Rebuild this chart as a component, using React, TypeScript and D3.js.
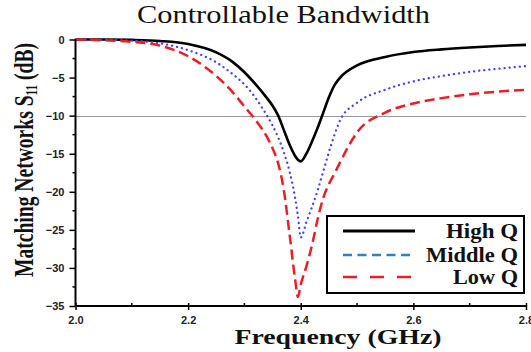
import * as d3 from "d3";

const freqs = [
  2.0, 2.05, 2.1, 2.15, 2.2, 2.25, 2.28, 2.3, 2.32, 2.34, 2.35, 2.36, 2.37, 2.38, 2.39, 2.395, 2.4,
  2.41, 2.42, 2.43, 2.44, 2.45, 2.46, 2.47, 2.5, 2.55, 2.6, 2.65, 2.7, 2.75, 2.8,
];

const highQ = [
  0, 0, -0.05, -0.2, -0.6, -1.7, -3.0, -4.3, -5.9, -7.7, -8.7, -10.0, -11.9, -13.8, -15.3, -15.8, -16.0,
  -15.0, -13.4, -11.6, -9.6, -7.6, -6.0, -5.0, -3.4, -2.3, -1.65, -1.3, -1.05, -0.85, -0.7,
];

const middleQ = [
  0, -0.05, -0.15, -0.5, -1.4, -3.0, -4.6, -5.9, -7.7, -10.0, -11.3, -12.9, -14.8, -17.3, -20.8, -23.2, -26.0,
  -24.0, -22.0, -19.8, -17.3, -14.8, -12.5, -10.6, -8.3, -6.6, -5.5, -4.8, -4.25, -3.85, -3.5,
];

const lowQ = [
  0, -0.1, -0.3, -0.8, -2.2, -4.8, -7.0, -8.8, -10.6, -12.8, -14.3, -16.3, -19.8, -25.5, -31.5, -33.8, -32.2,
  -29.8, -27.0, -23.6, -20.8, -19.0, -17.6, -16.1, -12.2, -9.6, -8.4, -7.7, -7.2, -6.85, -6.6,
];

const seriesNames = ["High Q", "Middle Q", "Low Q"];
const xTicks = [2.0, 2.2, 2.4, 2.6, 2.8];
const yTicks = [0, -5, -10, -15, -20, -25, -30, -35];
const refLevel = -10;

const W = 531;
const H = 352;
const left = 75.5;
const right = 526;
const top = 39.5;
const bottom = 306;

// line styles for the plot and for the legend samples
const styles: Record<string, {color: string; width: number; dash: string | null; cap: string; legendColor: string; legendDash: string | null}> = {
  "High Q": {color: "#000000", width: 2.6, dash: null, cap: "butt", legendColor: "#000000", legendDash: null},
  "Middle Q": {color: "#4343f2", width: 2.3, dash: "0.1 5", cap: "round", legendColor: "#2a82c9", legendDash: "9 5.5"},
  "Low Q": {color: "#ee1c25", width: 2.5, dash: "10 5", cap: "butt", legendColor: "#ee1c25", legendDash: "14 13"},
};

const serif = "'Liberation Serif', 'Times New Roman', serif";
const sans = "'Liberation Sans', Arial, sans-serif";

export default function App() {
  const x = d3.scaleLinear().domain([2.0, 2.8]).range([left, right]);
  const y = d3.scaleLinear().domain([-35, 0]).range([bottom, top]);

  const values = [highQ, middleQ, lowQ];
  const line = d3
    .line<number>()
    .x((_, i) => x(freqs[i]))
    .y((d) => y(d))
    .curve(d3.curveMonotoneX);

  const xMinor = d3.range(2.1, 2.8, 0.2);
  const yMinor = d3.range(-2.5, -35, -5);

  const axisRef = (node: SVGGElement | null) => {
    if (!node) return;
    const g = d3.select(node);
    g.selectAll("*").remove();

    // bottom axis
    const xa = g.append("g").attr("transform", `translate(0,${bottom})`);
    xa.call(
      d3.axisBottom(x).tickValues(xTicks).tickSize(4).tickPadding(6).tickFormat(d3.format(".1f"))
    );
    xa.selectAll(".tick line").attr("y1", -3);
    xa.append("g")
      .selectAll("line")
      .data(xMinor)
      .join("line")
      .attr("x1", (d) => x(d))
      .attr("x2", (d) => x(d))
      .attr("y1", -3)
      .attr("y2", 0)
      .attr("stroke", "#000")
      .attr("stroke-width", 1.5);

    // left axis
    const ya = g.append("g").attr("transform", `translate(${left},0)`);
    ya.call(d3.axisLeft(y).tickValues(yTicks).tickSize(6).tickPadding(5).tickFormat(d3.format("d")));
    ya.append("g")
      .selectAll("line")
      .data(yMinor)
      .join("line")
      .attr("x1", -3)
      .attr("x2", 0)
      .attr("y1", (d) => y(d))
      .attr("y2", (d) => y(d))
      .attr("stroke", "#000")
      .attr("stroke-width", 1.5);

    g.selectAll(".domain").attr("stroke", "#000").attr("stroke-width", 2);
    g.selectAll(".tick line").attr("stroke", "#000").attr("stroke-width", 1.5);
    g.selectAll(".tick text")
      .attr("font-family", sans)
      .attr("font-weight", "bold")
      .attr("font-size", 11)
      .attr("fill", "#222");
    // keep only the axis line itself, no end caps
    xa.select(".domain").attr("d", `M${left},0H${right}`);
    ya.select(".domain").attr("d", `M0,${top}V${bottom}`);
  };

  const legendX = 327;
  const legendY = 216;
  const rows = [231, 255, 277];
  const refY = Math.round(y(refLevel)) + 0.5;

  return (
    <svg width={W} height={H} style={{position: "absolute", left: 0, top: 0, background: "#fff"}}>
      <text
        x={283.5}
        y={23}
        textAnchor="middle"
        fontFamily={serif}
        fontSize={26}
        textLength={293}
        lengthAdjust="spacingAndGlyphs"
        fill="#111"
      >
        Controllable Bandwidth
      </text>

      <line
        x1={left}
        x2={right}
        y1={refY}
        y2={refY}
        stroke="#333"
        strokeWidth={1}
        strokeDasharray="1 1"
      />

      {seriesNames.map((name, i) => {
        const s = styles[name];
        return (
          <path
            key={name}
            d={line(values[i]) ?? ""}
            fill="none"
            stroke={s.color}
            strokeWidth={s.width}
            strokeDasharray={s.dash ?? undefined}
            strokeLinecap={s.cap as "butt" | "round"}
          />
        );
      })}

      <g ref={axisRef} />

      <text
        transform={`translate(33,160) rotate(-90)`}
        textAnchor="middle"
        fontFamily={serif}
        fontWeight="bold"
        fontSize={28}
        textLength={234}
        lengthAdjust="spacingAndGlyphs"
        fill="#111"
      >
        Matching Networks S
        <tspan fontSize={16} dy={4}>11</tspan>
        <tspan dy={-4}> (dB)</tspan>
      </text>

      <text
        x={338}
        y={344}
        textAnchor="middle"
        fontFamily={serif}
        fontWeight="bold"
        fontSize={20}
        textLength={207}
        lengthAdjust="spacingAndGlyphs"
        fill="#111"
      >
        Frequency (GHz)
      </text>

      <rect
        x={legendX}
        y={legendY}
        width={197}
        height={77}
        fill="#fff"
        stroke="#000"
        strokeWidth={2}
      />
      {seriesNames.map((name, i) => {
        const s = styles[name];
        const widths = [72, 92, 65];
        return (
          <g key={name}>
            <line
              x1={343}
              x2={415}
              y1={rows[i]}
              y2={rows[i]}
              stroke={s.legendColor}
              strokeWidth={name === "High Q" ? 3 : 2.6}
              strokeDasharray={s.legendDash ?? undefined}
            />
            <text
              x={518}
              y={rows[i] + 7}
              textAnchor="end"
              fontFamily={serif}
              fontWeight="bold"
              fontSize={20}
              textLength={widths[i]}
              lengthAdjust="spacingAndGlyphs"
              fill="#111"
            >
              {name}
            </text>
          </g>
        );
      })}
    </svg>
  );
}
